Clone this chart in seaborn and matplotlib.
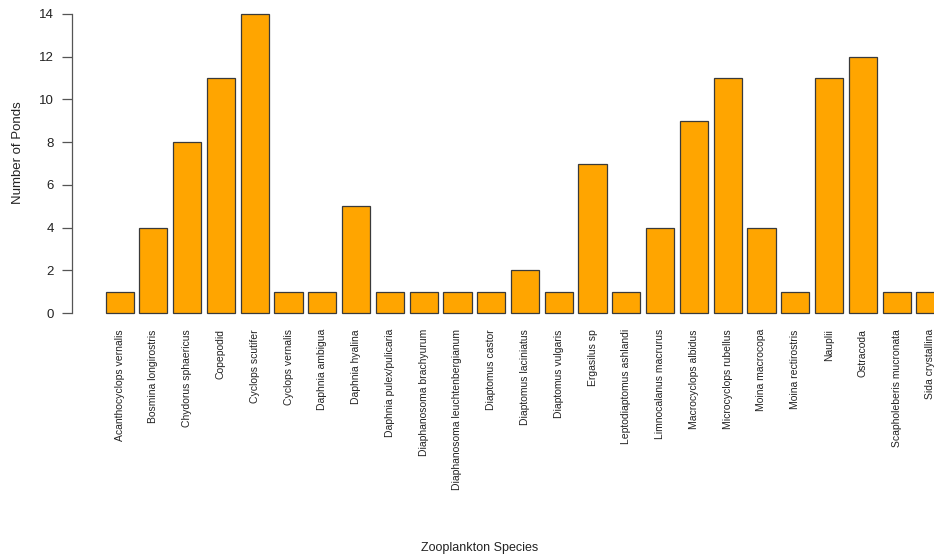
import pandas as pd
import matplotlib
matplotlib.use("Agg")
import matplotlib.pyplot as plt
import seaborn as sns

species = [
    "Acanthocyclops vernalis", "Bosmina longirostris", "Chydorus sphaericus",
    "Copepodid", "Cyclops scutifer", "Cyclops vernalis", "Daphnia ambigua",
    "Daphnia hyalina", "Daphnia pulex/pulicaria", "Diaphanosoma brachyurum",
    "Diaphanosoma leuchtenbergianum", "Diaptomus castor", "Diaptomus laciniatus",
    "Diaptomus vulgaris", "Ergasilus sp", "Leptodiaptomus ashlandi",
    "Limnocalanus macrurus", "Macrocyclops albidus", "Microcyclops rubellus",
    "Moina macrocopa", "Moina rectirostris", "Nauplii", "Ostracoda",
    "Scapholeberis mucronata", "Sida crystallina",
]
ponds = [1, 4, 8, 11, 14, 1, 1, 5, 1, 1, 1, 1, 2, 1, 7, 1, 4, 9, 11, 4, 1, 11, 12, 1, 1]
y_ticks = [0, 2, 4, 6, 8, 10, 12, 14]

df = pd.DataFrame({"species": species, "ponds": ponds})

sns.set_style("white")
plt.rcParams["font.family"] = ["Liberation Sans", "DejaVu Sans"]
text_col = "#222222"

W, H = 934, 558
fig = plt.figure(figsize=(W / 100, H / 100), dpi=100)
# plot region in pixels (R-style, right side runs past the image edge)
left_px, right_px, top_px, bottom_px = 72, 978, 2, 325
ax = fig.add_axes([left_px / W, 1 - bottom_px / H,
                   (right_px - left_px) / W, (bottom_px - top_px) / H])

sns.barplot(data=df, x="species", y="ponds", color="#FFA500", saturation=1,
            width=0.833, edgecolor="#3a3a3a", linewidth=0.9, ax=ax)

ax.set_xlim(-1.41, len(species) - 1 + 1.41)
ax.set_ylim(-0.56, 14.56)

for s in ["top", "right", "bottom"]:
    ax.spines[s].set_visible(False)
ax.spines["left"].set_bounds(0, 14)
ax.spines["left"].set_color("#555555")
ax.spines["left"].set_linewidth(0.9)

ax.set_yticks(y_ticks)
ax.tick_params(axis="y", length=7, width=0.9, color="#555555",
               labelsize=9.5, labelcolor=text_col, pad=6, left=True)
ax.tick_params(axis="x", length=0, labelsize=7.5, labelcolor=text_col, pad=3)
ax.set_xticks(range(len(species)))
ax.set_xticklabels(species, rotation=90, va="top", ha="center")

ax.set_xlabel("")
ax.set_ylabel("")
fig.text(18 / W, 1 - 153 / H, "Number of Ponds", rotation=90,
         ha="center", va="center", fontsize=9.5, color=text_col)
fig.text(480 / W, 1 - 548 / H, "Zooplankton Species",
         ha="center", va="center", fontsize=9, color=text_col)

fig.savefig("out.png", dpi=100)
